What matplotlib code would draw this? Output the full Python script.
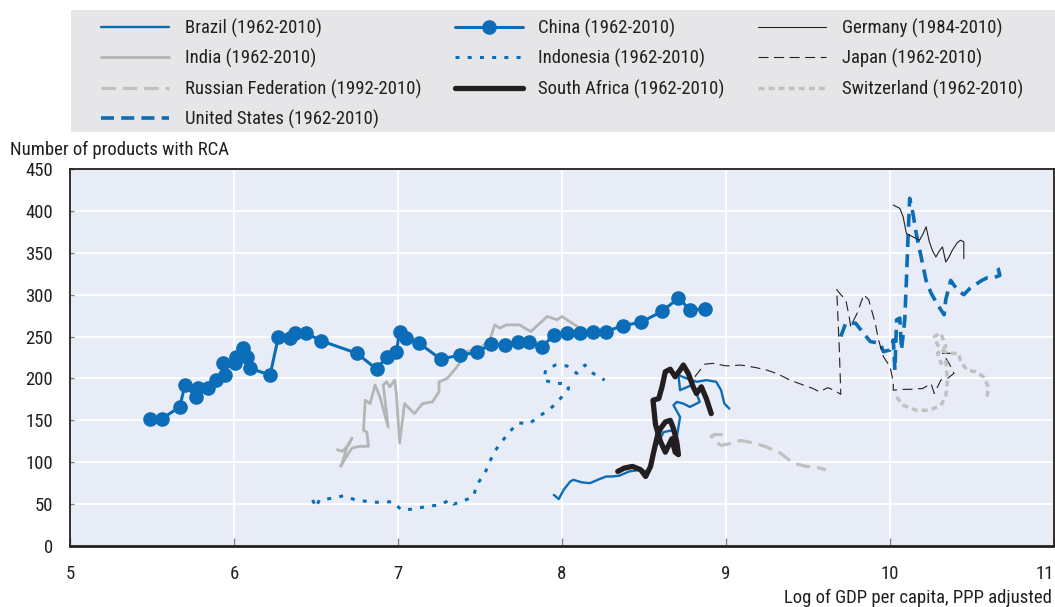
import matplotlib
matplotlib.use("Agg")
import matplotlib.pyplot as plt
from matplotlib.patches import Rectangle

plt.rcParams["font.family"] = ["Roboto Condensed", "DejaVu Sans"]

# ---- data: (log GDP per capita, number of products with RCA) ----
brazil_x = [7.95, 7.98, 8.01, 8.05, 8.07, 8.12, 8.17, 8.23, 8.27, 8.31, 8.35, 8.41, 8.48, 8.52,
            8.54, 8.57, 8.62, 8.67, 8.70, 8.72, 8.68, 8.70, 8.74, 8.78, 8.84, 8.82, 8.79, 8.72,
            8.71, 8.76, 8.82, 8.88, 8.94, 8.97, 8.99, 9.02]
brazil_y = [61, 56, 67, 77, 79, 76, 75, 80, 83, 83, 84, 89, 91, 89,
            97, 118, 136, 138, 130, 154, 168, 172, 170, 166, 172, 182, 192, 186,
            204, 200, 196, 198, 196, 186, 170, 164]

china_x = [5.49, 5.56, 5.67, 5.70, 5.77, 5.78, 5.84, 5.89, 5.945, 5.935, 6.006, 6.012, 6.057,
           6.077, 6.10, 6.22, 6.27, 6.34, 6.37, 6.44, 6.53, 6.75, 6.87, 6.93, 6.99, 7.01, 7.05,
           7.13, 7.26, 7.38, 7.48, 7.57, 7.65, 7.73, 7.80, 7.88, 7.95, 8.03, 8.11, 8.19, 8.27,
           8.37, 8.48, 8.61, 8.71, 8.78, 8.87]
china_y = [152, 152, 166, 192, 178, 188, 189, 198, 204, 218, 218, 226, 236,
           226, 212, 204, 249, 248, 254, 254, 245, 230, 211, 226, 232, 256, 248,
           242, 223, 228, 231, 241, 240, 244, 244, 238, 252, 254, 254, 255, 256,
           263, 267, 280, 296, 282, 283]

germany_x = [10.02, 10.06, 10.08, 10.10, 10.14, 10.18, 10.20, 10.22, 10.24, 10.26, 10.28, 10.30,
             10.32, 10.34, 10.36, 10.38, 10.41, 10.43, 10.45, 10.45]
germany_y = [407, 403, 393, 373, 369, 365, 372, 381, 363, 352, 345, 352,
             357, 339, 345, 353, 362, 365, 363, 343]

india_x = [6.63, 6.66, 6.70, 6.72, 6.69, 6.66, 6.65, 6.68, 6.72, 6.77, 6.82, 6.81, 6.79, 6.80,
           6.83, 6.86, 6.89, 6.94, 6.91, 6.93, 6.95, 6.98, 6.99, 7.01, 7.04, 7.10, 7.15, 7.21,
           7.25, 7.25, 7.30, 7.36, 7.42, 7.50, 7.56, 7.59, 7.62, 7.66, 7.74, 7.81, 7.91, 7.97,
           8.00, 8.03, 8.14]
india_y = [115, 113, 121, 129, 119, 99, 95, 105, 117, 119, 119, 136, 138, 174,
           170, 192, 178, 142, 192, 196, 190, 198, 182, 123, 170, 158, 170, 172,
           184, 196, 200, 214, 232, 236, 246, 264, 260, 264, 264, 256, 274, 270,
           274, 270, 256]

indonesia_x = [6.48, 6.50, 6.52, 6.60, 6.67, 6.74, 6.82, 6.89, 6.97, 7.02, 7.09, 7.17, 7.25,
               7.32, 7.34, 7.40, 7.46, 7.48, 7.53, 7.56, 7.59, 7.63, 7.68, 7.73, 7.80, 7.87,
               7.93, 7.99, 8.04, 8.03, 7.96, 7.89, 7.90, 7.96, 8.03, 8.09, 8.14, 8.19, 8.26]
indonesia_y = [55, 46, 55, 57, 60, 55, 53, 52, 53, 43, 44, 47, 49,
               55, 50, 54, 59, 73, 87, 101, 113, 124, 136, 147, 146, 156,
               164, 176, 188, 194, 194, 198, 210, 216, 215, 206, 216, 206, 198]

japan_x = [8.81, 8.85, 8.87, 8.92, 9.00, 9.09, 9.18, 9.25, 9.32, 9.39, 9.46, 9.53, 9.57, 9.62,
           9.66, 9.70, 9.69, 9.675, 9.70, 9.73, 9.75, 9.76, 9.78, 9.80, 9.84, 9.87, 9.89, 9.91,
           9.93, 9.96, 10.00, 10.02, 10.02, 10.07, 10.12, 10.20, 10.25, 10.27, 10.31, 10.35,
           10.39, 10.36, 10.32, 10.37]
japan_y = [202, 212, 217, 218, 215, 216, 213, 210, 205, 198, 193, 188, 184, 189,
           186, 181, 240, 306, 300, 294, 275, 262, 270, 278, 300, 294, 280, 266,
           246, 226, 214, 196, 186, 187, 187, 188, 194, 182, 198, 200,
           206, 218, 230, 230]

russia_x = [8.98, 8.93, 8.91, 8.93, 8.97, 9.02, 9.09, 9.17, 9.25, 9.33, 9.41, 9.49, 9.55, 9.61]
russia_y = [133, 133, 131, 125, 120, 122, 126, 123, 118, 111, 99, 95, 94, 91]

safrica_x = [8.34, 8.38, 8.43, 8.48, 8.51, 8.54, 8.56, 8.58, 8.60, 8.63, 8.66, 8.68, 8.70, 8.71,
             8.69, 8.67, 8.65, 8.63, 8.60, 8.57, 8.555, 8.59, 8.61, 8.63, 8.66, 8.69, 8.72,
             8.74, 8.77, 8.80, 8.82, 8.85, 8.88, 8.91]
safrica_y = [89, 93, 95, 91, 83, 95, 113, 130, 140, 148, 150, 140, 124, 109,
             112, 128, 120, 112, 125, 145, 174, 176, 190, 208, 211, 202, 210,
             216, 206, 190, 182, 190, 176, 158]

swiss_x = [10.04, 10.08, 10.16, 10.24, 10.31, 10.34, 10.35, 10.34, 10.31, 10.29, 10.34, 10.31,
           10.27, 10.29, 10.33, 10.37, 10.42, 10.43, 10.47, 10.52, 10.57, 10.60, 10.59]
swiss_y = [178, 168, 162, 162, 168, 178, 198, 222, 218, 230, 238, 254,
           250, 240, 232, 230, 230, 220, 210, 208, 202, 190, 176]

us_x = [9.70, 9.73, 9.79, 9.83, 9.88, 9.94, 9.96, 10.00, 10.02, 10.03, 10.04, 10.06, 10.07, 10.09,
        10.10, 10.11, 10.12, 10.14, 10.16, 10.19, 10.22, 10.25, 10.29, 10.33, 10.34, 10.37,
        10.41, 10.45, 10.49, 10.56, 10.59, 10.63, 10.67, 10.66, 10.64]
us_y = [250, 266, 266, 256, 244, 242, 232, 234, 246, 210, 270, 272, 234, 270,
        317, 369, 415, 397, 373, 345, 317, 302, 288, 276, 294, 317,
        306, 300, 308, 317, 320, 320, 323, 331, 338]

x_ticks = [5, 6, 7, 8, 9, 10, 11]
y_ticks = [0, 50, 100, 150, 200, 250, 300, 350, 400, 450]

BLUE = "#0B6DB7"
BLACK = "#231F20"
GREY = "#B5B5B5"
LGREY = "#C0C0C0"
TXT = "#231F20"
FS = 13.5

fig = plt.figure(figsize=(10.55, 6.07), dpi=100)
W, H = 1055, 607

# legend backdrop
fig.patches.append(Rectangle((71 / W, 1 - 132 / H), 984 / W, 122 / H,
                             transform=fig.transFigure, facecolor="#E6E6E8",
                             edgecolor="none", zorder=0))

ax = fig.add_axes([70 / W, 61 / H, 984 / W, 377 / H])
ax.set_facecolor("#E8ECF6")

series = [
    ("Brazil (1962-2010)", brazil_x, brazil_y,
     dict(color=BLUE, lw=1.7, ls="-")),
    ("India (1962-2010)", india_x, india_y,
     dict(color=GREY, lw=2.0, ls="-")),
    ("Russian Federation (1992-2010)", russia_x, russia_y,
     dict(color=LGREY, lw=2.3, ls=(0, (4.5, 2.2)))),
    ("United States (1962-2010)", us_x, us_y,
     dict(color=BLUE, lw=2.6, ls=(0, (3.6, 2.0)))),
    ("China (1962-2010)", china_x, china_y,
     dict(color=BLUE, lw=2.2, ls="-", marker="o", ms=9.5)),
    ("Indonesia (1962-2010)", indonesia_x, indonesia_y,
     dict(color=BLUE, lw=2.2, ls=(0, (1.3, 2.7)))),
    ("South Africa (1962-2010)", safrica_x, safrica_y,
     dict(color=BLACK, lw=3.8, ls="-")),
    ("Germany (1984-2010)", germany_x, germany_y,
     dict(color=BLACK, lw=0.8, ls="-")),
    ("Japan (1962-2010)", japan_x, japan_y,
     dict(color=BLACK, lw=0.8, ls=(0, (9, 5)))),
    ("Switzerland (1962-2010)", swiss_x, swiss_y,
     dict(color=LGREY, lw=2.5, ls=(0, (1.7, 1.2)))),
]

handles = []
for label, xs, ys, st in series:
    line, = ax.plot(xs, ys, label=label, zorder=3, solid_joinstyle="round",
                    solid_capstyle="round", dash_capstyle="butt", **st)
    handles.append(line)

ax.set_xlim(5, 11)
ax.set_ylim(0, 450)
ax.set_xticks(x_ticks)
ax.set_yticks(y_ticks)
ax.grid(True, color="white", lw=1.3, zorder=1)
ax.set_axisbelow(True)

for side in ["left", "top", "right"]:
    ax.spines[side].set_color(BLACK)
    ax.spines[side].set_linewidth(1.3)
ax.spines["bottom"].set_color(BLACK)
ax.spines["bottom"].set_linewidth(2.0)

ax.tick_params(axis="x", direction="in", length=6, width=1, color="#808080",
               labelsize=FS, labelcolor=TXT, pad=14)
ax.tick_params(axis="y", direction="in", length=3, width=1, color="#808080",
               labelsize=FS, labelcolor=TXT, pad=12)

# keep the last x tick label inside the figure edge
ax.set_xticklabels([str(t) for t in x_ticks])
ax.get_xticklabels()[-1].set_horizontalalignment("right")

fig.text(10 / W, 1 - 150 / H, "Number of products with RCA", fontsize=FS,
         color=TXT, ha="left", va="center")
fig.text(1052 / W, 1 - 598 / H, "Log of GDP per capita, PPP adjusted", fontsize=FS,
         color=TXT, ha="right", va="center")

fig.legend(handles=handles, ncol=3, loc="upper left",
           bbox_to_anchor=(101 / W, 1 - 18.5 / H), bbox_transform=fig.transFigure,
           frameon=False, fontsize=FS, handlelength=3.63, handletextpad=0.85,
           columnspacing=1.76, labelspacing=0.6, borderpad=0, borderaxespad=0,
           labelcolor=TXT)

fig.savefig("out.png", dpi=100)
